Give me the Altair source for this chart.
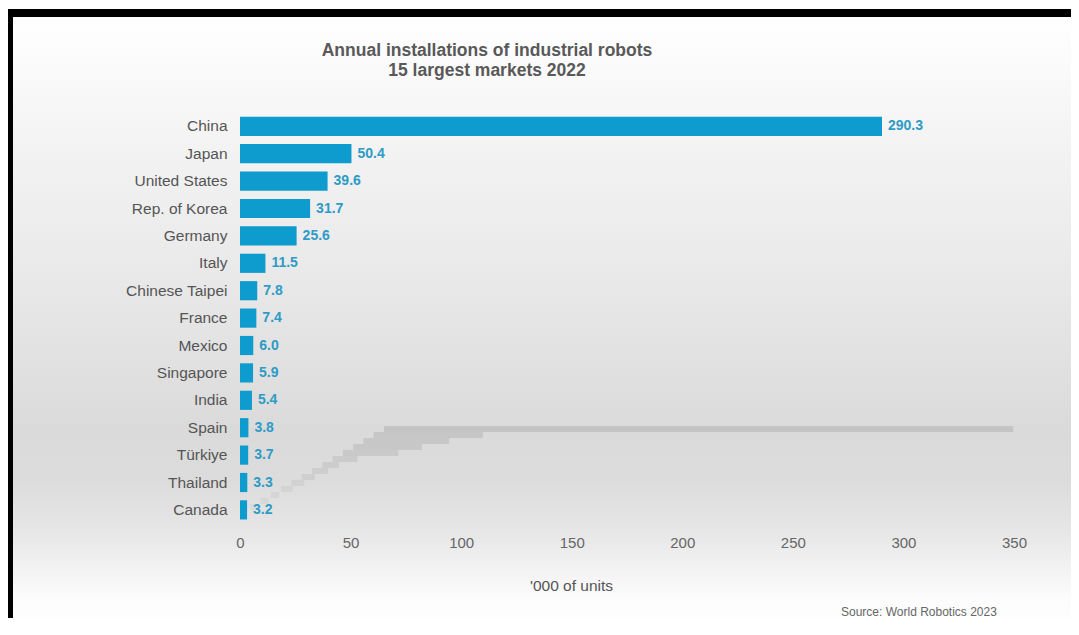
import altair as alt
import pandas as pd

# ---- data ----
countries = ["China", "Japan", "United States", "Rep. of Korea", "Germany", "Italy",
             "Chinese Taipei", "France", "Mexico", "Singapore", "India", "Spain",
             "Türkiye", "Thailand", "Canada"]
values = [290.3, 50.4, 39.6, 31.7, 25.6, 11.5, 7.8, 7.4, 6.0, 5.9, 5.4, 3.8, 3.7, 3.3, 3.2]
x_ticks = [0, 50, 100, 150, 200, 250, 300, 350]
title_lines = ["Annual installations of industrial robots", "15 largest markets 2022"]
x_title = "'000 of units"
source_text = "Source: World Robotics 2023"

df = pd.DataFrame({"country": countries, "value": values, "rank": list(range(len(countries)))})
one = pd.DataFrame({"k": [0]})

FONT = "Liberation Sans"
W, H = 774, 411
NLAST = len(countries) - 1
RIGHT_EDGE = 831  # right edge of the canvas, in plot coordinates

x_scale = alt.Scale(domain=[0, 350], nice=False, zero=True)
y_scale = alt.Scale(paddingInner=0.3, paddingOuter=0.15)

gradient = {
    "gradient": "linear", "x1": 0, "y1": 0, "x2": 0, "y2": 1,
    "stops": [
        {"offset": 0.0, "color": "#ffffff"},
        {"offset": 0.075, "color": "#fbfbfb"},
        {"offset": 0.19, "color": "#f4f4f4"},
        {"offset": 0.38, "color": "#ebebeb"},
        {"offset": 0.54, "color": "#e2e2e2"},
        {"offset": 0.67, "color": "#dadada"},
        {"offset": 0.75, "color": "#dcdcdc"},
        {"offset": 0.83, "color": "#e6e6e6"},
        {"offset": 0.893, "color": "#f3f3f3"},
        {"offset": 0.94, "color": "#fcfcfc"},
        {"offset": 1.0, "color": "#ffffff"},
    ],
}

bg = alt.Chart(one).mark_rect(fill=gradient).encode(
    x=alt.value(-231), x2=alt.value(RIGHT_EDGE), y=alt.value(-99.6), y2=alt.value(524.4)
)

frame_top = alt.Chart(one).mark_rule(color="black", strokeWidth=8, strokeCap="butt").encode(
    x=alt.value(-235), x2=alt.value(RIGHT_EDGE), y=alt.value(-99.6)
)
frame_left = alt.Chart(one).mark_rule(color="black", strokeWidth=8, strokeCap="butt").encode(
    x=alt.value(-231), y=alt.value(-103.6), y2=alt.value(530)
)

shadow = alt.Chart(df).transform_calculate(
    r=f"{NLAST} - datum.rank"
).transform_calculate(
    sx0="datum.r * 4.65",
    sx1="datum.r * 4.65 + datum.value * 0.98",
    sy0="datum.r - 0.5",
    sy1="datum.r + 0.5",
    op=f"0.08 + 0.26 * datum.r / {NLAST}",
).mark_rect(fill="#9a9a9a").encode(
    x=alt.X("sx0:Q", scale=x_scale, axis=None),
    x2="sx1:Q",
    y=alt.Y("sy0:Q", scale=alt.Scale(domain=[-0.5, NLAST + 0.5], range=[403.4, 313.4], nice=False), axis=None),
    y2="sy1:Q",
    opacity=alt.Opacity("op:Q", scale=None, legend=None),
)

bars = alt.Chart(df).mark_bar(color="#0e9bcd").encode(
    x=alt.X("value:Q", scale=x_scale,
            axis=alt.Axis(orient="bottom", values=x_ticks, title=x_title, grid=False, ticks=False,
                          domain=False, labelFontSize=15, labelColor="#666666", labelPadding=12,
                          labelFont=FONT, labelFlush=False, zindex=1,
                          titleFont=FONT, titleFontSize=15.5, titleFontWeight="normal",
                          titleColor="#555555", titleX=331, titleY=67, titleAlign="center",
                          titleBaseline="alphabetic")),
    y=alt.Y("country:N", sort=countries, scale=y_scale,
            axis=alt.Axis(orient="left", title=None, grid=False, ticks=False, domain=False,
                          labelFontSize=15.5, labelColor="#555555", labelPadding=13,
                          labelFont=FONT, zindex=1)),
)

labels = alt.Chart(df).mark_text(align="left", baseline="middle", dx=6, fontSize=14,
                                 fontWeight="bold", color="#2e9bc6", font=FONT).encode(
    x=alt.X("value:Q", scale=x_scale),
    y=alt.Y("country:N", sort=countries, scale=y_scale),
    text=alt.Text("value:Q", format=".1f"),
)

title = alt.Chart(one).mark_text(text=title_lines, align="center", baseline="alphabetic",
                                 fontSize=17.5, fontWeight="bold", color="#595959",
                                 lineHeight=20, font=FONT).encode(
    x=alt.value(247), y=alt.value(-56.6)
)

source = alt.Chart(one).mark_text(text=source_text, align="left", baseline="alphabetic",
                                  fontSize=12, color="#666666", font=FONT).encode(
    x=alt.value(601), y=alt.value(503.5)
)

main = alt.layer(bars, labels)

chart = alt.layer(bg, shadow, main, title, source, frame_top, frame_left).resolve_scale(
    y="independent"
).resolve_axis(
    x="independent", y="independent"
).properties(
    width=W, height=H,
    padding={"left": 232, "top": 104.6, "right": 57, "bottom": 94.4},
    autosize=alt.AutoSizeParams(type="none"),
    background="white",
).configure_view(strokeWidth=0)

chart.save("out.html", embed_options={"renderer": "svg", "actions": False})
